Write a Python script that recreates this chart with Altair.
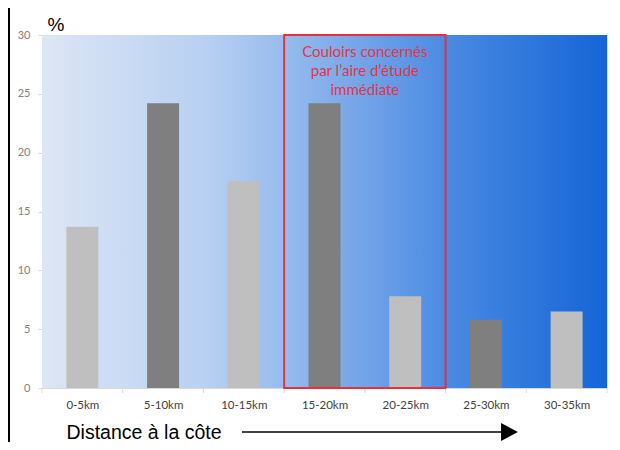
import altair as alt
import pandas as pd

categories = ["0-5km", "5-10km", "10-15km", "15-20km", "20-25km", "25-30km", "30-35km"]
values = [13.7, 24.2, 17.6, 24.2, 7.8, 5.8, 6.5]
shades = ["light", "dark", "light", "dark", "light", "dark", "light"]
box_first, box_last = 3, 4
box_label = "Couloirs concernés\npar l’aire d’étude\nimmédiate"
y_ticks = [0, 5, 10, 15, 20, 25, 30]
y_max = 30

W, H = 565, 353

df = pd.DataFrame({"idx": list(range(len(categories))), "cat": categories,
                   "value": values, "shade": shades})
bounds = pd.DataFrame({"b": [i - 0.5 for i in range(len(categories) + 1)]})
box = pd.DataFrame({"x1": [box_first - 0.5], "x2": [box_last + 0.5],
                    "top": [y_max], "bot": [0], "xc": [(box_first + box_last) / 2],
                    "label": [box_label]})
one = pd.DataFrame({"k": [0]})

xscale = alt.Scale(domain=[-0.5, len(categories) - 0.5], nice=False, zero=False, padding=0)
yscale = alt.Scale(domain=[0, y_max], nice=False, padding=0)

label_expr = "[" + ",".join("'" + c + "'" for c in categories) + "][datum.value]"

xaxis = alt.Axis(values=list(range(len(categories))), labelExpr=label_expr,
                 ticks=False, grid=False, domainColor="#d9d9d9",
                 labelFont="Lato", labelFontSize=11.5, labelColor="#404040",
                 labelPadding=11, labelFlush=False,
                 title="Distance à la côte", titleFont="Liberation Sans",
                 titleFontSize=19.5, titleFontWeight="normal", titleColor="black",
                 titleX=24, titleY=44, titleAlign="left", titleBaseline="middle",
                 titleAnchor="start")
yaxis = alt.Axis(values=y_ticks, grid=False, domainColor="#d9d9d9",
                 tickColor="#d9d9d9", tickSize=4, labelPadding=8,
                 labelFont="Lato", labelFontSize=11, labelColor="#808080",
                 title="%", titleAngle=0, titleFont="Liberation Sans",
                 titleFontSize=19, titleFontWeight="normal", titleColor="black",
                 titleX=5, titleY=-11, titleAlign="left", titleBaseline="middle")

grad = alt.LinearGradient(
    gradient="linear", x1=0, x2=1, y1=0, y2=0,
    stops=[
        alt.GradientStop(offset=0, color="#dde6f4"),
        alt.GradientStop(offset=0.3, color="#b6cff2"),
        alt.GradientStop(offset=0.45, color="#92b8ec"),
        alt.GradientStop(offset=0.72, color="#4a8ae2"),
        alt.GradientStop(offset=1, color="#1565d6"),
    ],
)

bg = alt.Chart(one).mark_rect(color=grad).encode(
    x=alt.value(0), x2=alt.value(W), y=alt.value(0), y2=alt.value(H)
)

bars = alt.Chart(df).mark_bar(size=32).encode(
    x=alt.X("idx:Q", scale=xscale, axis=xaxis),
    y=alt.Y("value:Q", scale=yscale, axis=yaxis),
    color=alt.Color("shade:N", scale=alt.Scale(domain=["light", "dark"],
                                               range=["#bfbfbf", "#7f7f7f"]), legend=None),
)

xticks = alt.Chart(bounds).mark_rule(color="#d9d9d9").encode(
    x=alt.X("b:Q", scale=xscale, axis=xaxis), y=alt.value(H), y2=alt.value(H + 5)
)

redbox = alt.Chart(box).mark_rect(fillOpacity=0, stroke="#e2323e", strokeWidth=2).encode(
    x=alt.X("x1:Q", scale=xscale, axis=xaxis), x2="x2:Q",
    y=alt.Y("top:Q", scale=yscale, axis=yaxis), y2="bot:Q"
)

redtext = alt.Chart(box).mark_text(color="#e0364a", font="Lato", fontSize=15,
                                   lineHeight=19, baseline="top", align="center",
                                   lineBreak="\n").encode(
    x=alt.X("xc:Q", scale=xscale, axis=xaxis), y=alt.value(10), text="label:N"
)

arrow_line = alt.Chart(one).mark_rule(color="black", strokeWidth=1.5).encode(
    x=alt.value(200), x2=alt.value(461), y=alt.value(H + 44)
)
arrow_head = alt.Chart(one).mark_point(shape="M-0.94,-1L0.94,0L-0.94,1Z", filled=True,
                                        size=324, color="black", opacity=1).encode(
    x=alt.value(467.5), y=alt.value(H + 44)
)
border = alt.Chart(one).mark_rule(color="black", strokeWidth=2).encode(
    x=alt.value(-33), y=alt.value(-27), y2=alt.value(H + 54)
)

chart = alt.layer(bg, bars, xticks, redbox, redtext, arrow_line, arrow_head, border).properties(
    width=W, height=H,
    autosize=alt.AutoSizeParams(type="none"),
    padding={"left": 34, "top": 27, "right": 5, "bottom": 54},
).configure_view(stroke=None).configure(background="white")

chart.save("out.html", embed_options={"renderer": "svg", "actions": False})
